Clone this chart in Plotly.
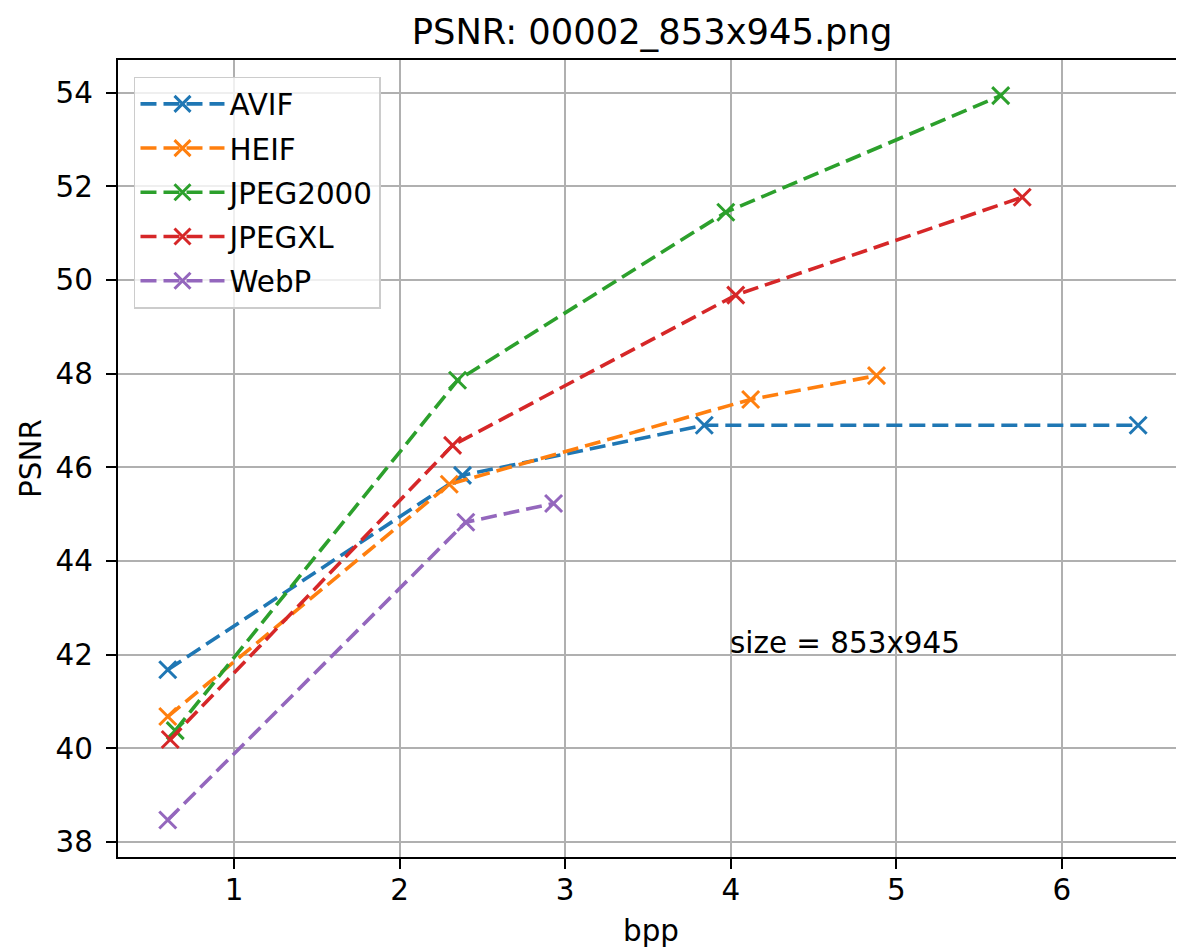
import plotly.graph_objects as go

# ---- data ----
codecs = ["AVIF", "HEIF", "JPEG2000", "JPEGXL", "WebP"]
avif_bpp = [0.60, 2.38, 3.84, 6.46]
avif_psnr = [41.68, 45.83, 46.90, 46.90]
heif_bpp = [0.60, 2.30, 4.12, 4.88]
heif_psnr = [40.68, 45.64, 47.45, 47.96]
jp2_bpp = [0.645, 2.35, 3.97, 5.63]
jp2_psnr = [40.38, 47.86, 51.45, 53.94]
jxl_bpp = [0.615, 2.32, 4.03, 5.76]
jxl_psnr = [40.19, 46.47, 49.68, 51.77]
webp_bpp = [0.60, 2.40, 2.93]
webp_psnr = [38.47, 44.83, 45.23]

x_ticks = [1, 2, 3, 4, 5, 6]
y_ticks = [38, 40, 42, 44, 46, 48, 50, 52, 54]
title_text = "PSNR: 00002_853x945.png"
note_text = "size = 853x945"
note_x, note_y = 4, 42

colors = ["#1f77b4", "#ff7f0e", "#2ca02c", "#d62728", "#9467bd"]
series = [
    (avif_bpp, avif_psnr),
    (heif_bpp, heif_psnr),
    (jp2_bpp, jp2_psnr),
    (jxl_bpp, jxl_psnr),
    (webp_bpp, webp_psnr),
]

FONT = "DejaVu Sans"
W, H = 1176, 944
fig = go.Figure()
for name, (xs, ys), c in zip(codecs, series, colors):
    fig.add_trace(go.Scatter(
        x=xs, y=ys, name=name, mode="lines+markers",
        legendgroup=name,
        line=dict(color=c, width=3.6, dash="16px,7px"),
        marker=dict(symbol="x-thin", size=17, color=c,
                    line=dict(color=c, width=3)),
    ))

fig.add_annotation(
    x=note_x, y=note_y, text=note_text, showarrow=False,
    xanchor="left", yanchor="bottom", yshift=-7, xshift=-3,
    font=dict(family=FONT, size=29.4, color="black"),
)

fig.update_layout(
    width=W, height=H, autosize=False,
    margin=dict(l=110, r=0, t=52, b=95),
    paper_bgcolor="white", plot_bgcolor="white",
    font=dict(family=FONT, size=29.4, color="black"),
    title=dict(text=title_text, x=0.5 * (110 + 1178) / W, xanchor="center",
               y=1 - 24 / H, yanchor="middle", yref="container",
               font=dict(family=FONT, size=35.3, color="black")),
    legend=dict(
        x=0.015, y=0.979, xanchor="left", yanchor="top",
        bgcolor="rgba(255,255,255,0.8)", bordercolor="#cccccc", borderwidth=1.5,
        font=dict(family=FONT, size=29.4, color="black"),
        tracegroupgap=3, itemwidth=84,
    ),
    showlegend=True,
)
fig.update_xaxes(
    range=[0.2995, 6.737], tickvals=x_ticks,
    showgrid=True, gridcolor="#b0b0b0", gridwidth=2.2,
    showline=True, linecolor="black", linewidth=2.35, mirror=True,
    ticks="outside", ticklen=10, tickwidth=2.35, tickcolor="black",
    zeroline=False, ticklabelstandoff=-4,
    title=dict(text="bpp", standoff=14, font=dict(family=FONT, size=29.4)),
)
fig.update_yaxes(
    range=[37.68, 54.70], tickvals=y_ticks,
    showgrid=True, gridcolor="#b0b0b0", gridwidth=2.2,
    showline=True, linecolor="black", linewidth=2.35, mirror=False,
    ticks="outside", ticklen=10, tickwidth=2.35, tickcolor="black",
    zeroline=False, ticklabelstandoff=7,
    title=dict(text="PSNR", standoff=5, font=dict(family=FONT, size=29.4)),
)

fig.write_html("out.html")
